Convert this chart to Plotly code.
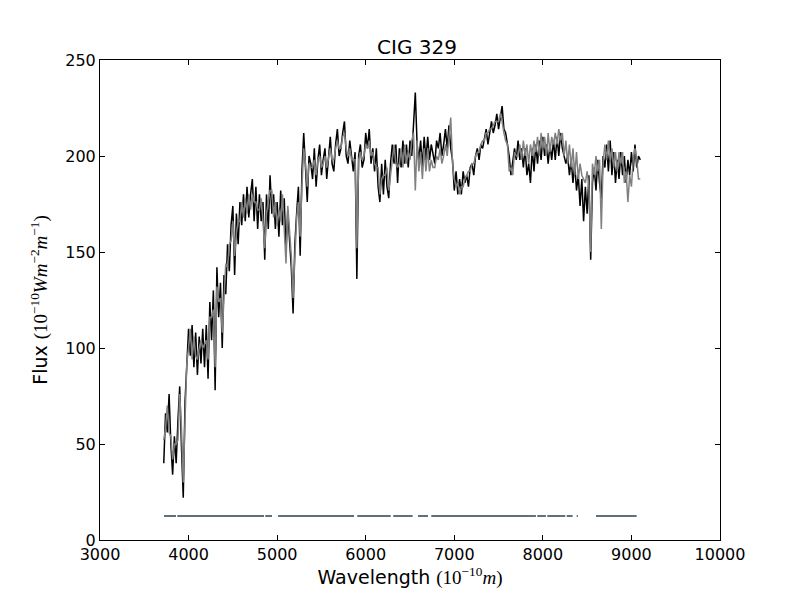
import numpy as np
import plotly.graph_objects as go

# wavelength sampling (Angstrom), 20 A steps
wave = np.arange(3720, 9101, 20)

observed = [
    40, 66, 56, 76, 50, 34, 54, 40, 62, 80,
    48, 22, 72, 95, 110, 96, 112, 90, 108, 86,
    106, 92, 110, 90, 112, 84, 124, 104, 130, 78,
    142, 116, 134, 100, 138, 128, 154, 140, 164, 174,
    138, 170, 154, 176, 164, 180, 166, 184, 168, 180,
    188, 166, 184, 162, 180, 166, 176, 146, 180, 162,
    190, 170, 180, 162, 176, 158, 182, 164, 178, 150,
    172, 156, 142, 118, 154, 170, 184, 148, 192, 212,
    192, 176, 200, 196, 188, 204, 184, 198, 206, 190,
    198, 204, 188, 200, 210, 196, 192, 206, 214, 200,
    204, 212, 218, 200, 196, 208, 198, 192, 202, 136,
    200, 206, 194, 198, 212, 204, 214, 196, 204, 192,
    204, 184, 176, 196, 180, 198, 184, 178, 196, 206,
    196, 206, 186, 204, 194, 208, 196, 206, 194, 208,
    200, 220, 233, 206, 198, 208, 194, 210, 198, 210,
    198, 206, 200, 196, 208, 204, 212, 200, 206, 214,
    204, 216, 204, 198, 182, 192, 180, 188, 180, 192,
    186, 190, 184, 194, 196, 190, 200, 204, 198, 206,
    204, 210, 214, 206, 212, 218, 212, 216, 222, 214,
    220, 226, 214, 212, 206, 200, 190, 196, 204, 198,
    208, 198, 204, 194, 204, 190, 196, 186, 204, 192,
    206, 196, 208, 198, 210, 200, 206, 196, 206, 198,
    208, 198, 210, 200, 212, 204, 200, 196, 200, 190,
    198, 186, 196, 182, 190, 174, 188, 166, 184, 170,
    190, 146, 186, 194, 182, 198, 186, 178, 200, 194,
    206, 192, 208, 190, 202, 186, 198, 188, 202, 190,
    200, 186, 198, 190, 202, 192, 206, 194, 200, 198,
]

model = [
    52, 58, 70, 56, 54, 42, 50, 50, 52, 76,
    58, 30, 62, 92, 100, 110, 94, 106, 96, 94,
    100, 104, 100, 102, 104, 94, 116, 116, 120, 90,
    132, 124, 126, 108, 128, 144, 142, 154, 156, 166,
    148, 160, 166, 166, 176, 168, 178, 170, 180, 172,
    180, 176, 176, 172, 172, 178, 166, 152, 170, 176,
    182, 182, 168, 176, 164, 172, 166, 180, 162, 144,
    174, 160, 148, 126, 148, 168, 176, 158, 184, 204,
    196, 184, 196, 194, 194, 198, 190, 198, 200, 194,
    196, 200, 194, 200, 204, 198, 198, 204, 208, 204,
    204, 210, 212, 204, 200, 204, 198, 198, 198, 152,
    198, 202, 198, 200, 206, 204, 208, 200, 202, 196,
    194, 194, 180, 188, 190, 190, 194, 182, 192, 198,
    206, 196, 194, 196, 204, 194, 206, 196, 202, 198,
    208, 212, 182, 208, 192, 202, 188, 204, 192, 204,
    192, 198, 194, 194, 200, 198, 204, 196, 200, 206,
    200, 212, 220, 196, 188, 184, 186, 180, 184, 184,
    188, 190, 192, 192, 196, 196, 200, 202, 202, 206,
    208, 208, 212, 212, 214, 214, 216, 218, 218, 218,
    222, 218, 212, 208, 206, 192, 194, 190, 202, 200,
    200, 206, 198, 208, 200, 206, 196, 206, 200, 208,
    202, 210, 200, 212, 204, 210, 200, 212, 202, 210,
    206, 212, 206, 214, 208, 212, 200, 208, 196, 206,
    194, 204, 190, 202, 188, 196, 190, 188, 186, 192,
    184, 150, 196, 190, 200, 192, 198, 162, 196, 206,
    198, 208, 198, 204, 194, 202, 192, 202, 196, 202,
    186, 192, 176, 190, 184, 198, 204, 198, 188, 188,
]

# masked (fitted) wavelength windows
mask_start = [3722, 3873, 4866, 5010, 5905, 6311, 6590, 6740, 7937, 8050, 8269, 8382, 8600]
mask_end = [3858, 4852, 4942, 5868, 6282, 6530, 6703, 7922, 8035, 8253, 8336, 8396, 9059]
mask_level = 12.5

mx, my = [], []
for a, b in zip(mask_start, mask_end):
    mx += [a, b, None]
    my += [mask_level, mask_level, None]

fig = go.Figure()
fig.add_trace(go.Scatter(x=wave, y=observed, mode="lines",
                         line=dict(color="black", width=1.5)))
fig.add_trace(go.Scatter(x=wave, y=model, mode="lines",
                         line=dict(color="#808080", width=1.5)))
fig.add_trace(go.Scatter(x=mx, y=my, mode="lines",
                         line=dict(color="#63707a", width=2)))

serif = "<span style='font-family:Liberation Serif'>"
fig.update_layout(
    width=792, height=592,
    margin=dict(l=92, r=80, t=52, b=60),
    paper_bgcolor="white", plot_bgcolor="white",
    showlegend=False,
    font=dict(family="DejaVu Sans", size=16, color="black"),
    title=dict(text="CIG 329", x=0.5165, xanchor="center", y=0.922,
               yanchor="bottom", font=dict(size=20)),
)
fig.update_xaxes(
    range=[3000, 10000], dtick=1000, tick0=3000, tickformat="d",
    showline=True, linecolor="black", linewidth=1, mirror="ticks",
    ticks="inside", ticklen=5, tickcolor="black", showgrid=False, zeroline=False,
    title=dict(text="Wavelength " + serif + "(10<sup>−10</sup><i>m</i>)</span>",
               standoff=4),
)
fig.update_yaxes(
    range=[0, 250], dtick=50,
    showline=True, linecolor="black", linewidth=1, mirror="ticks",
    ticks="inside", ticklen=5, tickcolor="black", showgrid=False, zeroline=False,
    title=dict(text="Flux " + serif + "(10<sup>−10</sup><i>Wm</i><sup>−2</sup><i>m</i><sup>−1</sup>)</span>",
               standoff=12),
)

fig.write_html("out.html")
